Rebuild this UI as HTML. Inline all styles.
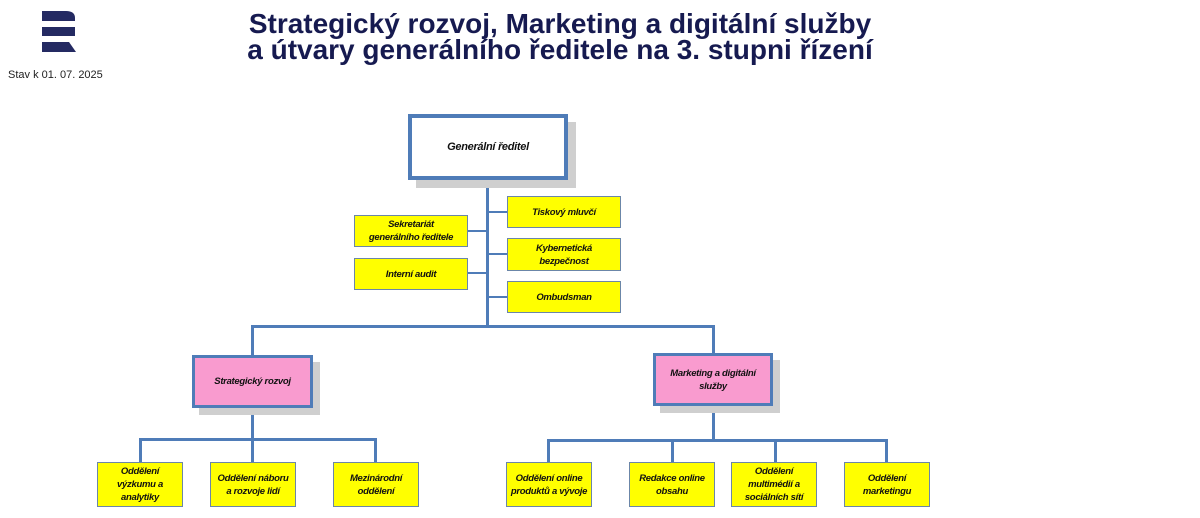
<!DOCTYPE html>
<html><head><meta charset="utf-8"><style>
body{margin:0;width:1200px;height:518px;background:#fff;position:relative;overflow:hidden;font-family:"Liberation Sans",sans-serif}
.t{position:absolute;left:110px;width:900px;text-align:center;font-weight:bold;font-size:28px;color:#161a50;line-height:28px}
.b{position:absolute;box-sizing:border-box;display:flex;align-items:center;justify-content:center;text-align:center;font-style:italic;font-weight:bold;color:#111;font-size:9.5px;line-height:13px;letter-spacing:-0.3px}
.y{background:#ffff00;border:1.5px solid #6b86a8}
.p{background:#f99bcf;border:3.5px solid #4f7cb8;box-shadow:7px 7px 0 #cfcfcf}
.l{position:absolute;background:#4f7cb8}
</style></head><body>
<div class="t" style="top:10px">Strategický rozvoj, Marketing a digitální služby</div>
<div class="t" style="top:36px">a útvary generálního ředitele na 3. stupni řízení</div>
<svg style="position:absolute;left:42px;top:11px" width="36" height="43" viewBox="0 0 36 43">
<path d="M0 0H24Q33 0 33 7V10H0Z M0 16H33V25H0Z M0 31H27L34 41H0Z" fill="#242a62"/></svg>
<div style="position:absolute;left:8px;top:69px;font-size:11px;color:#222">Stav k 01. 07. 2025</div>

<div class="l" style="left:486px;top:180px;width:3px;height:147px"></div>
<div class="l" style="left:487px;top:211px;width:20px;height:2px"></div>
<div class="l" style="left:487px;top:253px;width:20px;height:2px"></div>
<div class="l" style="left:487px;top:296px;width:20px;height:2px"></div>
<div class="l" style="left:468px;top:230px;width:19px;height:2px"></div>
<div class="l" style="left:468px;top:272px;width:19px;height:2px"></div>
<div class="l" style="left:251px;top:325px;width:464px;height:3px"></div>
<div class="l" style="left:251px;top:325px;width:3px;height:30px"></div>
<div class="l" style="left:712px;top:325px;width:3px;height:30px"></div>
<div class="l" style="left:251px;top:408px;width:3px;height:32px"></div>
<div class="l" style="left:139px;top:438px;width:238px;height:3px"></div>
<div class="l" style="left:139px;top:438px;width:3px;height:24px"></div>
<div class="l" style="left:251px;top:438px;width:3px;height:24px"></div>
<div class="l" style="left:374px;top:438px;width:3px;height:24px"></div>
<div class="l" style="left:712px;top:406px;width:3px;height:34px"></div>
<div class="l" style="left:547px;top:439px;width:341px;height:3px"></div>
<div class="l" style="left:547px;top:439px;width:3px;height:23px"></div>
<div class="l" style="left:671px;top:439px;width:3px;height:23px"></div>
<div class="l" style="left:774px;top:439px;width:3px;height:23px"></div>
<div class="l" style="left:885px;top:439px;width:3px;height:23px"></div>

<div class="b" style="left:408px;top:114px;width:160px;height:66px;background:#fff;border:4px solid #4f7cb8;box-shadow:8px 8px 0 #cfcfcf;font-size:11px">Generální ředitel</div>
<div class="b y" style="left:507px;top:196px;width:114px;height:32px">Tiskový mluvčí</div>
<div class="b y" style="left:507px;top:238px;width:114px;height:33px">Kybernetická<br>bezpečnost</div>
<div class="b y" style="left:507px;top:281px;width:114px;height:32px">Ombudsman</div>
<div class="b y" style="left:354px;top:215px;width:114px;height:32px">Sekretariát<br>generálního ředitele</div>
<div class="b y" style="left:354px;top:258px;width:114px;height:32px">Interní audit</div>
<div class="b p" style="left:192px;top:355px;width:121px;height:53px">Strategický rozvoj</div>
<div class="b p" style="left:653px;top:353px;width:120px;height:53px">Marketing a digitální<br>služby</div>
<div class="b y" style="left:97px;top:462px;width:86px;height:45px">Oddělení<br>výzkumu a<br>analytiky</div>
<div class="b y" style="left:210px;top:462px;width:86px;height:45px">Oddělení náboru<br>a rozvoje lidí</div>
<div class="b y" style="left:333px;top:462px;width:86px;height:45px">Mezinárodní<br>oddělení</div>
<div class="b y" style="left:506px;top:462px;width:86px;height:45px">Oddělení online<br>produktů a vývoje</div>
<div class="b y" style="left:629px;top:462px;width:86px;height:45px">Redakce online<br>obsahu</div>
<div class="b y" style="left:731px;top:462px;width:86px;height:45px">Oddělení<br>multimédií a<br>sociálních sítí</div>
<div class="b y" style="left:844px;top:462px;width:86px;height:45px">Oddělení<br>marketingu</div>
</body></html>
